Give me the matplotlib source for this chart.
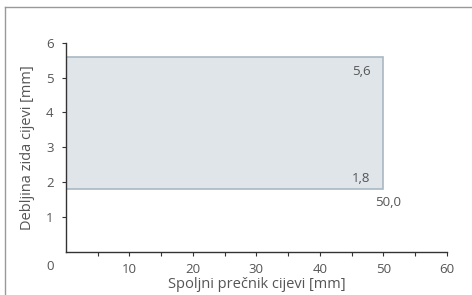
import matplotlib.pyplot as plt
from matplotlib.patches import Rectangle
from matplotlib.lines import Line2D

# podaci
precnik_min = 0.0
precnik_max = 50.0
debljina_min = 1.8
debljina_max = 5.6
x_ticks = [10, 20, 30, 40, 50, 60]
y_ticks = [1, 2, 3, 4, 5, 6]

plt.rcParams['font.family'] = ['Open Sans', 'DejaVu Sans']
tekst = '#555555'

fig = plt.figure(figsize=(4.72, 2.95), dpi=100)
ax = fig.add_axes([0.1398, 0.1458, 0.8066, 0.7095])

ax.add_patch(Rectangle((precnik_min, debljina_min), precnik_max - precnik_min,
                       debljina_max - debljina_min, facecolor='#dfe5e9',
                       edgecolor='#a9b8c3', linewidth=1.2))

fmt = lambda v: ('%.1f' % v).replace('.', ',')
ax.text(precnik_max - 3.5, debljina_max - 0.42, fmt(debljina_max), ha='center', va='center',
        fontsize=9.5, color=tekst)
ax.text(precnik_max - 3.5, debljina_min + 0.32, fmt(debljina_min), ha='center', va='center',
        fontsize=9.5, color=tekst)
ax.text(precnik_max + 0.7, debljina_min - 0.37, fmt(precnik_max), ha='center', va='center',
        fontsize=9.5, color=tekst)

ax.set_xlim(0, 60)
ax.set_ylim(0, 6)
ax.set_xticks(x_ticks)
ax.set_xticks(range(5, 61, 10), minor=True)
ax.set_yticks(y_ticks)
ax.tick_params(axis='both', which='both', colors='#333333', labelcolor=tekst,
               labelsize=9.5, width=0.8)
ax.tick_params(axis='x', which='both', length=3, pad=5)
ax.tick_params(axis='y', length=3, pad=6)
ax.text(-2.5, -0.43, '0', ha='center', va='center', fontsize=9.5, color=tekst, clip_on=False)

for s in ['top', 'right']:
    ax.spines[s].set_visible(False)
for s in ['left', 'bottom']:
    ax.spines[s].set_color('#333333')
    ax.spines[s].set_linewidth(1.0)

ax.set_xlabel('Spoljni prečnik cijevi [mm]', fontsize=10.5, color=tekst, labelpad=1)
ax.set_ylabel('Debljina zida cijevi [mm]', fontsize=10.5, color=tekst, labelpad=8)

# okvir slike
fig.add_artist(Line2D([5 / 472, 1], [1 - 7 / 295, 1 - 7 / 295], color='#999999', lw=1))
fig.add_artist(Line2D([5 / 472, 5 / 472], [0, 1 - 7 / 295], color='#999999', lw=1))

plt.savefig('out.png', dpi=100)
